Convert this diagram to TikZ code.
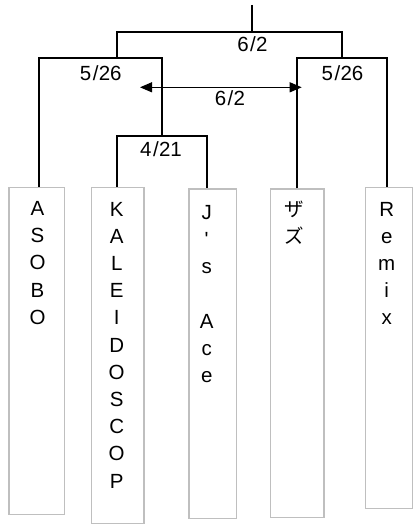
\documentclass[tikz,border=0pt]{standalone}
\usepackage{fontspec}
\setmainfont{Liberation Sans}
\newfontfamily\cjk{Noto Sans CJK JP}
\usetikzlibrary{arrows.meta}
\newcommand{\straightquote}{{\XeTeXglyph\XeTeXcharglyph"27\relax}}
\newcommand{\myslash}{\kern1.5pt/\kern0.3pt}
\begin{document}
\begin{tikzpicture}[x=1pt,y=-1pt,
  wire/.style={line width=1.9pt,black},
  boxst/.style={draw=black!25,line width=1.3pt,rectangle,inner sep=0pt,anchor=north west},
  col/.style={font=\fontsize{20.5}{27.2}\selectfont,align=center,anchor=base,inner sep=0pt},
  lab/.style={font=\fontsize{20.5}{24}\selectfont,inner sep=0pt},
  arr/.style={line width=1.2pt,{Triangle[length=12pt,width=10pt]}-{Triangle[length=12pt,width=10pt]}}]
\useasboundingbox (0,0) rectangle (412,524);
% boxes
\node[boxst,minimum width=55.7pt,minimum height=327.3pt] (b1) at (8.3,186.7) {};
\node[boxst,minimum width=52.6pt,minimum height=336pt] (b2) at (90.7,186.7) {};
\node[boxst,minimum width=47.4pt,minimum height=329.4pt] (b3) at (188.3,188.3) {};
\node[boxst,minimum width=53.3pt,minimum height=328.4pt] (b4) at (270,188.3) {};
\node[boxst,minimum width=46.7pt,minimum height=321pt] (b5) at (365,186.7) {};
% texts (anchor=base is the baseline of the last line)
\node[col] (t1) at (37.5,324.3) {A\\S\\O\\B\\O};
\node[col] (t2) at (116.7,488) {K\\A\\L\\E\\I\\D\\O\\S\\C\\O\\P};
\node[col] (t3) at (206.7,382.5) {J\\\straightquote\\s\\ \\A\\c\\e};
\node[col,font=\fontsize{19.5}{27.2}\selectfont] (t4) at (294.5,243.7) {\cjk ザ\\\cjk ズ};
\node[col] (t5) at (386.7,324.8) {R\\e\\m\\i\\x};
% bracket coordinates
\coordinate (root) at (251.7,5);
\coordinate (q0) at (251.7,31.7);
\coordinate (q2) at (116.7,57.7);
\coordinate (q3) at (341.7,57.7);
\coordinate (q1) at (162.3,135.7);
\coordinate (c1) at (39,186.7);
\coordinate (c2) at (116.7,186.7);
\coordinate (c3) at (206.7,188.3);
\coordinate (c4) at (296.7,188.3);
\coordinate (c5) at (386.7,186.7);
% connectors
\draw[wire] (root) -- (q0);
\draw[wire] (q2) |- (q0) -| (q3);
\draw[wire] (c1) |- (q2) -| (q1);
\draw[wire] (c2) |- (q1) -| (c3);
\draw[wire] (c4) |- (q3) -| (c5);
% labels
\node[lab] (l1) at (252.5,44.5) {6\myslash 2};
\node[lab] (l2) at (100.8,73) {5\myslash 26};
\node[lab] (l3) at (342.5,73) {5\myslash 26};
\node[lab] (l4) at (161,149.5) {4\myslash 21};
\coordinate (aL) at (140,87.3);
\coordinate (aR) at (301.7,87.3);
\draw[arr] (aL) -- (aR);
\node[lab] (l5) at (230,98) {6\myslash 2};
\end{tikzpicture}
\end{document}
